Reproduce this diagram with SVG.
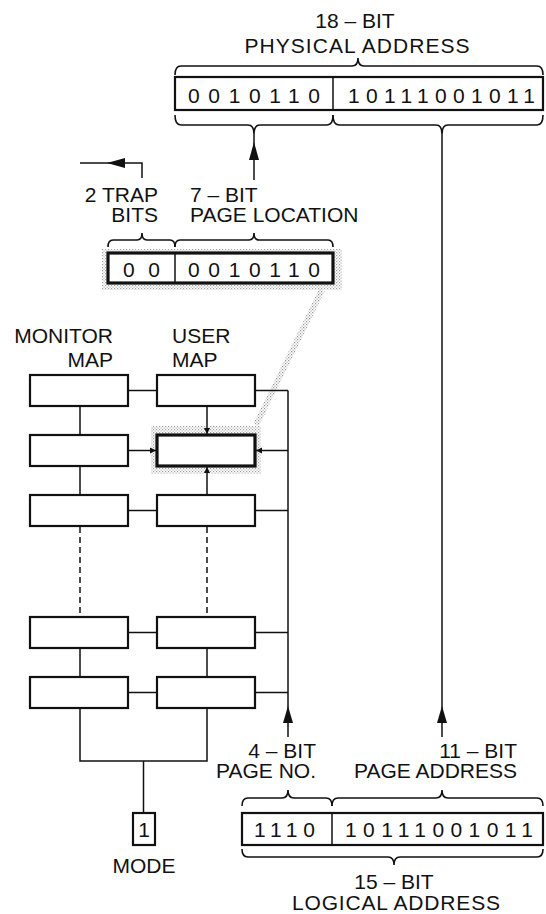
<svg xmlns="http://www.w3.org/2000/svg" width="546" height="914" viewBox="0 0 546 914">
<defs>
<pattern id="stip" width="3" height="3" patternUnits="userSpaceOnUse">
<rect x="0" y="0" width="1.2" height="1.2" fill="#555"/>
<rect x="1.5" y="1.5" width="1.2" height="1.2" fill="#777"/>
</pattern>
</defs>
<style>
text{font-family:"Liberation Sans",Arial,sans-serif;font-size:21px;fill:#111}
.box{fill:#fff;stroke:#111;stroke-width:2.2}
.hbox{fill:#fff;stroke:#111;stroke-width:3.2}
.ln{fill:none;stroke:#111;stroke-width:1.5}
.br{fill:none;stroke:#111;stroke-width:1.6}
.ds{fill:none;stroke:#111;stroke-width:1.5;stroke-dasharray:6 4}
.ah{fill:#111}
.m{text-anchor:middle}
.e{text-anchor:end}
</style>

<g id="physical">
<text class="m" x="355" y="28">18 – BIT</text>
<text class="m" x="357" y="53" textLength="225" lengthAdjust="spacing">PHYSICAL ADDRESS</text>
<path class="br" d="M175,75 Q175,66 181,66 L352,66 Q358,66 358,58 Q358,66 364,66 L537,66 Q543,66 543,75"/>
<rect class="box" x="175" y="77" width="368" height="33"/>
<line class="ln" x1="333" y1="77" x2="333" y2="110"/>
<text x="188" y="102.5" textLength="132" lengthAdjust="spacing">0010110</text>
<text x="348" y="102.5" textLength="187" lengthAdjust="spacing">10111001011</text>
<path class="br" d="M175,115 Q175,125 181,125 L248,125 Q254,125 254,134 Q254,125 260,125 L327,125 Q333,125 333,115"/>
<path class="br" d="M333,115 Q333,125 339,125 L436,125 Q442,125 442,134 Q442,125 448,125 L537,125 Q543,125 543,115"/>
</g>

<g id="trap">
<text class="e" x="158" y="202">2 TRAP</text>
<text class="e" x="158" y="222">BITS</text>
<text x="190" y="202">7 – BIT</text>
<text x="190" y="222">PAGE LOCATION</text>
<path class="br" d="M108,247 Q108,240 113,240 L137,240 Q142,240 142,233 Q142,240 147,240 L170,240 Q175,240 175,247"/>
<path class="br" d="M175,247 Q175,240 180,240 L249,240 Q254,240 254,233 Q254,240 259,240 L328,240 Q333,240 333,247"/>
<rect x="102" y="249" width="240" height="41" fill="url(#stip)" opacity="0.55"/>
<rect class="hbox" x="108" y="253" width="225" height="30"/>
<line class="ln" x1="175" y1="253" x2="175" y2="283"/>
<text x="123" y="277" textLength="37" lengthAdjust="spacing">00</text>
<text x="188" y="277" textLength="132" lengthAdjust="spacing">0010110</text>
</g>

<g id="labels">
<text class="e" x="113" y="343">MONITOR</text>
<text class="e" x="113" y="367">MAP</text>
<text x="172" y="343">USER</text>
<text x="172" y="367">MAP</text>
</g>

<g id="connectors">
<line class="ln" x1="254" y1="134" x2="254" y2="180"/>
<polygon class="ah" points="254,142 249,160 259,160"/>
<polyline class="ln" points="142,178 142,163 80,163"/>
<polygon class="ah" points="107,163 125,158 125,168"/>
<line class="ln" x1="442" y1="134" x2="442" y2="737"/>
<polygon class="ah" points="442,706 437,723 447,723"/>
<line class="ln" x1="288" y1="390.5" x2="288" y2="737"/>
<polygon class="ah" points="288,706 283,723 293,723"/>
<line x1="322" y1="290" x2="256" y2="425" stroke="url(#stip)" stroke-width="6" opacity="0.6"/>
<g>
<line class="ln" x1="128" y1="390.5" x2="157" y2="390.5"/>
<line class="ln" x1="128" y1="450.5" x2="157" y2="450.5"/>
<line class="ln" x1="128" y1="510.5" x2="157" y2="510.5"/>
<line class="ln" x1="128" y1="632.5" x2="157" y2="632.5"/>
<line class="ln" x1="128" y1="692.5" x2="157" y2="692.5"/>
<line class="ln" x1="255" y1="390.5" x2="288" y2="390.5"/>
<line class="ln" x1="255" y1="450.5" x2="288" y2="450.5"/>
<line class="ln" x1="255" y1="510.5" x2="288" y2="510.5"/>
<line class="ln" x1="255" y1="632.5" x2="288" y2="632.5"/>
<line class="ln" x1="255" y1="692.5" x2="288" y2="692.5"/>
<line class="ln" x1="80" y1="406" x2="80" y2="435"/>
<line class="ln" x1="80" y1="466" x2="80" y2="495"/>
<line class="ds" x1="80" y1="527" x2="80" y2="617"/>
<line class="ln" x1="80" y1="648" x2="80" y2="677"/>
<line class="ln" x1="207" y1="406" x2="207" y2="435"/>
<line class="ln" x1="207" y1="466" x2="207" y2="495"/>
<line class="ds" x1="207" y1="527" x2="207" y2="617"/>
<line class="ln" x1="207" y1="648" x2="207" y2="677"/>
<polyline class="ln" points="80,708 80,761 207,761 207,708"/>
<line class="ln" x1="143.5" y1="761" x2="143.5" y2="813"/>
</g>
</g>

<g id="monitor-map">
<rect class="box" x="30" y="375" width="98" height="31"/>
<rect class="box" x="30" y="435" width="98" height="31"/>
<rect class="box" x="30" y="495" width="98" height="31"/>
<rect class="box" x="30" y="617" width="98" height="31"/>
<rect class="box" x="30" y="677" width="98" height="31"/>
</g>

<g id="user-map">
<rect class="box" x="157" y="375" width="98" height="31"/>
<rect x="151" y="426" width="110" height="48" fill="url(#stip)" opacity="0.55"/>
<rect class="hbox" x="157" y="435" width="98" height="31"/>
<polygon class="ah" points="207,434 204,428 210,428"/>
<polygon class="ah" points="207,467 204,473 210,473"/>
<polygon class="ah" points="156,450.5 150,447.5 150,453.5"/>
<polygon class="ah" points="256,450.5 262,447.5 262,453.5"/>
<rect class="box" x="157" y="495" width="98" height="31"/>
<rect class="box" x="157" y="617" width="98" height="31"/>
<rect class="box" x="157" y="677" width="98" height="31"/>
</g>

<g id="mode">
<rect class="box" x="133" y="813" width="22" height="32"/>
<text class="m" x="144" y="837">1</text>
<text class="m" x="144" y="873">MODE</text>
</g>

<g id="logical">
<text class="e" x="316" y="758">4 – BIT</text>
<text class="e" x="316" y="778">PAGE NO.</text>
<text class="e" x="517" y="758">11 – BIT</text>
<text class="e" x="517" y="778">PAGE ADDRESS</text>
<path class="br" d="M242,806 Q242,798 248,798 L282,798 Q288,798 288,790 Q288,798 294,798 L326,798 Q332,798 332,806"/>
<path class="br" d="M332,806 Q332,798 338,798 L436,798 Q442,798 442,790 Q442,798 448,798 L537,798 Q543,798 543,806"/>
<rect class="box" x="242" y="813" width="301" height="32"/>
<line class="ln" x1="332" y1="813" x2="332" y2="845"/>
<text x="254" y="837" textLength="61" lengthAdjust="spacing">1110</text>
<text x="345" y="837" textLength="188" lengthAdjust="spacing">10111001011</text>
<path class="br" d="M242,849 Q242,857 248,857 L388,857 Q394,857 394,865 Q394,857 400,857 L537,857 Q543,857 543,849"/>
<text class="m" x="394" y="889">15 – BIT</text>
<text class="m" x="396" y="910" textLength="208" lengthAdjust="spacing">LOGICAL ADDRESS</text>
</g>
</svg>
